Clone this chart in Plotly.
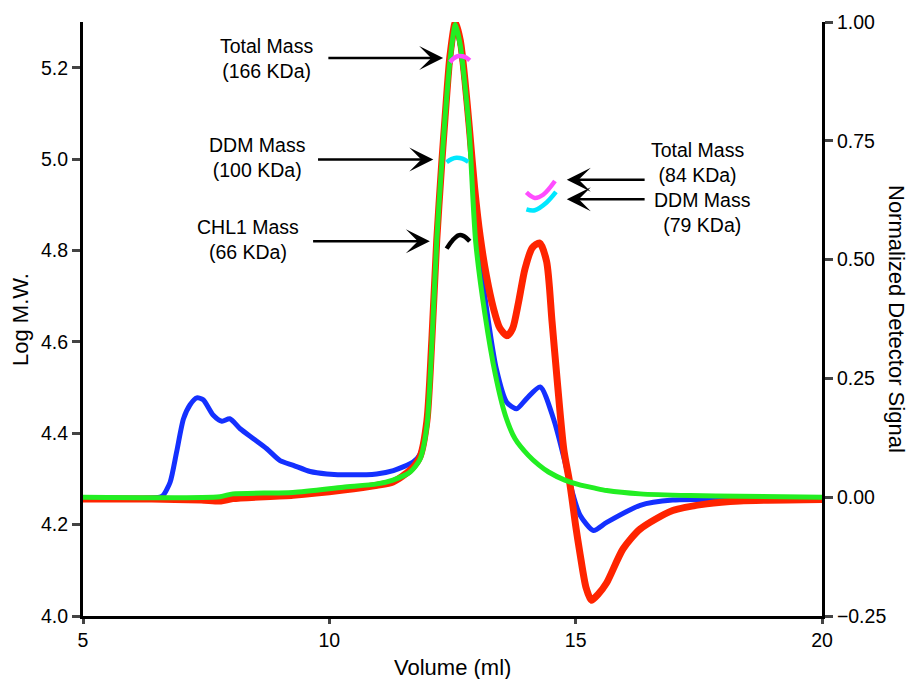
import plotly.graph_objects as go

# ---------------- data ----------------
# Detector signal curves (normalized), x = elution volume (ml)
red_x = [5.0, 6.4, 7.4, 7.8, 8.04, 9.26, 10.28, 10.97, 11.29, 11.64, 11.84, 11.98, 12.08, 12.18,
         12.28, 12.35, 12.45, 12.56, 12.66, 12.75, 12.84, 12.95, 13.06, 13.19, 13.33, 13.46,
         13.61, 13.72, 13.84, 13.97, 14.12, 14.27, 14.41, 14.52, 14.63, 14.76, 14.88, 15.0, 15.09,
         15.21, 15.32, 15.45, 15.63, 15.96, 16.31, 16.97, 17.66, 18.33, 20.0]
red_y = [-0.004, -0.004, -0.006, -0.008, -0.003, 0.004, 0.015, 0.025, 0.032, 0.057, 0.085, 0.16,
         0.33, 0.54, 0.70, 0.80, 0.93, 1.0, 0.96, 0.88, 0.78, 0.65, 0.55, 0.465, 0.398, 0.356,
         0.34, 0.355, 0.41, 0.48, 0.525, 0.535, 0.496, 0.37, 0.24, 0.10, 0.03, -0.06, -0.12,
         -0.19, -0.217, -0.205, -0.18, -0.109, -0.067, -0.028, -0.014, -0.008, -0.005]

blue_x = [5.0, 6.56, 6.63, 6.77, 6.9, 7.04, 7.17, 7.31, 7.44, 7.64, 7.82, 7.98, 8.19, 8.46, 8.73,
          9.0, 9.27, 9.61, 9.95, 10.42, 10.96, 11.3, 11.7, 11.84, 11.98, 12.08, 12.18, 12.28, 12.35,
          12.45, 12.56, 12.66, 12.75, 12.84, 12.95, 13.02, 13.19, 13.39, 13.6, 13.8, 14.0, 14.28,
          14.55, 14.75, 14.95, 15.09, 15.36, 15.63, 16.31, 16.97, 18.33, 20.0]
blue_y = [-0.002, 0.0, 0.004, 0.032, 0.095, 0.165, 0.194, 0.209, 0.205, 0.173, 0.16, 0.165, 0.144,
          0.123, 0.102, 0.077, 0.067, 0.054, 0.049, 0.047, 0.049, 0.056, 0.074, 0.09, 0.16, 0.32,
          0.54, 0.70, 0.80, 0.92, 0.995, 0.95, 0.87, 0.77, 0.63, 0.538, 0.398, 0.27, 0.2, 0.186,
          0.207, 0.232, 0.165, 0.088, 0.004, -0.038, -0.07, -0.053, -0.017, -0.006, -0.004, -0.003]

green_x = [5.0, 7.78, 8.04, 9.26, 10.28, 10.97, 11.29, 11.64, 11.84, 11.98, 12.08, 12.18, 12.28,
           12.35, 12.45, 12.56, 12.66, 12.75, 12.84, 12.97, 13.16, 13.37, 13.57, 13.77, 14.04,
           14.25, 14.45, 14.78, 15.05, 15.39, 15.63, 16.31, 17.32, 18.33, 20.0]
green_y = [0.0, 0.001, 0.007, 0.01, 0.021, 0.028, 0.036, 0.053, 0.08, 0.15, 0.32, 0.54, 0.70,
           0.80, 0.92, 0.995, 0.95, 0.87, 0.77, 0.538, 0.384, 0.258, 0.173, 0.123, 0.088,
           0.068, 0.053, 0.036, 0.027, 0.019, 0.014, 0.007, 0.0035, 0.002, 0.0]

# Molar-mass traces (log M.W.)
mag1_x = [12.45, 12.52, 12.6, 12.7, 12.78, 12.85]
mag1_y = [5.212, 5.22, 5.225, 5.225, 5.222, 5.216]
cyan1_x = [12.38, 12.48, 12.58, 12.7, 12.82]
cyan1_y = [4.993, 5.0, 5.003, 5.001, 4.994]
black_x = [12.38, 12.5, 12.62, 12.72, 12.85]
black_y = [4.804, 4.822, 4.833, 4.832, 4.82]
mag2_x = [14.0, 14.17, 14.34, 14.58]
mag2_y = [4.927, 4.915, 4.922, 4.952]
cyan2_x = [14.0, 14.17, 14.41, 14.6]
cyan2_y = [4.890, 4.888, 4.905, 4.928]

x_ticks = [5, 10, 15, 20]
left_ticks = [4.0, 4.2, 4.4, 4.6, 4.8, 5.0, 5.2]
right_ticks = [-0.25, 0.0, 0.25, 0.5, 0.75, 1.0]

# label text, label position, arrow tail, arrow head
labels = [
    ("Total Mass<br>(166 KDa)", 8.73, 5.220, 9.95, 12.31, 5.221),
    ("DDM Mass<br>(100 KDa)", 8.55, 5.004, 9.74, 12.11, 4.999),
    ("CHL1 Mass<br>(66 KDa)", 8.35, 4.823, 9.64, 12.04, 4.820),
    ("Total Mass<br>(84 KDa)", 17.48, 4.993, 16.43, 14.82, 4.955),
    ("DDM Mass<br>(79 KDa)", 17.58, 4.883, 16.43, 14.82, 4.912),
]

FONT = "Liberation Sans, Arial, sans-serif"
TXT = 19.5
TITLE = 22

fig = go.Figure()

for xs, ys, col, w in [(blue_x, blue_y, "#1430ff", 5),
                       (red_x, red_y, "#ff2400", 7),
                       (green_x, green_y, "#22ee22", 5)]:
    fig.add_trace(go.Scatter(x=xs, y=ys, mode="lines", yaxis="y",
                             line=dict(color=col, width=w, shape="spline", smoothing=0.7),
                             hoverinfo="skip", showlegend=False))

for xs, ys, col in [(mag1_x, mag1_y, "#ff4cff"), (cyan1_x, cyan1_y, "#00e8ff"),
                    (black_x, black_y, "#000000"), (mag2_x, mag2_y, "#ff4cff"),
                    (cyan2_x, cyan2_y, "#00e8ff")]:
    fig.add_trace(go.Scatter(x=xs, y=ys, mode="lines", yaxis="y2",
                             line=dict(color=col, width=4.5, shape="spline"),
                             hoverinfo="skip", showlegend=False))

ann = []
for text, tx, ty, tail_x, head_x, ay in labels:
    ann.append(dict(x=tx, y=ty, xref="x", yref="y2", text=text, showarrow=False,
                    align="center", font=dict(family=FONT, size=TXT, color="black")))
    ann.append(dict(x=head_x, y=ay, xref="x", yref="y2", ax=tail_x, ay=ay, axref="x",
                    ayref="y2", text="", showarrow=True, arrowhead=3, arrowsize=1.6,
                    arrowwidth=2.5, arrowcolor="black"))

ann.append(dict(x=-0.0853, y=0.5, xref="paper", yref="paper", text="Log M.W.", textangle=-90,
                xanchor="center", yanchor="middle",
                showarrow=False, font=dict(family=FONT, size=TITLE, color="black")))
ann.append(dict(x=1.1015, y=0.5, xref="paper", yref="paper", text="Normalized Detector Signal",
                textangle=90, xanchor="center", yanchor="middle",
                showarrow=False, font=dict(family=FONT, size=TITLE, color="black")))
ann.append(dict(x=0.5, y=-0.0875, xref="paper", yref="paper", text="Volume (ml)",
                xanchor="center", yanchor="middle",
                showarrow=False, font=dict(family=FONT, size=TITLE, color="black")))

axis_common = dict(ticks="outside", tickwidth=3, showline=True, linewidth=3, linecolor="black",
                   showgrid=False, zeroline=False, automargin=False,
                   tickfont=dict(family=FONT, size=TXT, color="black"))

fig.update_layout(
    width=908, height=679,
    margin=dict(l=83, r=86, t=22, b=63),
    paper_bgcolor="white", plot_bgcolor="white",
    font=dict(family=FONT, size=TXT, color="black"),
    xaxis=dict(range=[5, 20], tickvals=x_ticks, ticklen=5, **axis_common),
    yaxis=dict(range=[-0.25, 1.0], side="right", tickvals=right_ticks, tickformat=".2f",
               ticklen=8, **axis_common),
    yaxis2=dict(range=[4.0, 5.3], side="left", overlaying="y", tickvals=left_ticks,
                tickformat=".1f", ticklen=8, **axis_common),
    annotations=ann,
)

fig.write_html("out.html", config={"displayModeBar": False},
               post_script="document.body.style.margin='0';")
